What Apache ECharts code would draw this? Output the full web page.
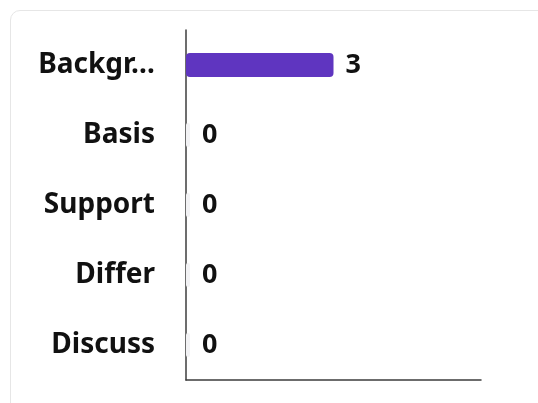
<!DOCTYPE html>
<html>
<head>
<meta charset="utf-8">
<script src="https://cdn.jsdelivr.net/npm/echarts@6/dist/echarts.min.js"></script>
<style>
html,body{margin:0;padding:0;background:#fff;width:538px;height:403px;overflow:hidden;}
#card{position:absolute;left:10px;top:10px;width:560px;height:420px;border:1px solid #e6e6e6;border-radius:10px;box-sizing:border-box;}
#chart{position:absolute;left:0;top:0;width:538px;height:403px;}
</style>
</head>
<body>
<div id="card"></div>
<div id="chart"></div>
<script>
const categories = ['Background', 'Basis', 'Support', 'Differ', 'Discuss'];
const values = [3, 0, 0, 0, 0];
const xMax = 6;

const chart = echarts.init(document.getElementById('chart'), null, {renderer: 'canvas'});
chart.setOption({
  animation: false,
  grid: {left: 186, top: 30, right: 57, bottom: 23, containLabel: false},
  xAxis: {
    type: 'value', min: 0, max: xMax,
    axisLine: {show: true, lineStyle: {color: '#3d3d3d', width: 1.5}},
    axisTick: {show: false}, axisLabel: {show: false}, splitLine: {show: false}
  },
  yAxis: {
    type: 'category', inverse: true, data: categories,
    axisLine: {show: true, lineStyle: {color: '#3d3d3d', width: 1.5}},
    axisTick: {show: false},
    axisLabel: {
      margin: 31, color: '#111', fontSize: 28, fontWeight: 'bold', fontFamily: 'Noto Sans',
      padding: [4, 0, 0, 0],
      formatter: v => v.length > 7 ? v.slice(0, 6) + '…' : v
    }
  },
  series: [{
    type: 'bar', data: values, barWidth: 24, barMinHeight: 4,
    itemStyle: {
      borderRadius: 4,
      color: p => p.value === 0 ? '#f2f2f4' : '#5f35c0'
    },
    label: {
      show: true, position: 'right', distance: 12, color: '#111',
      fontSize: 27, fontWeight: 'bold', fontFamily: 'Noto Sans',
      padding: [4, 0, 0, 0]
    }
  }]
});
</script>
</body>
</html>
